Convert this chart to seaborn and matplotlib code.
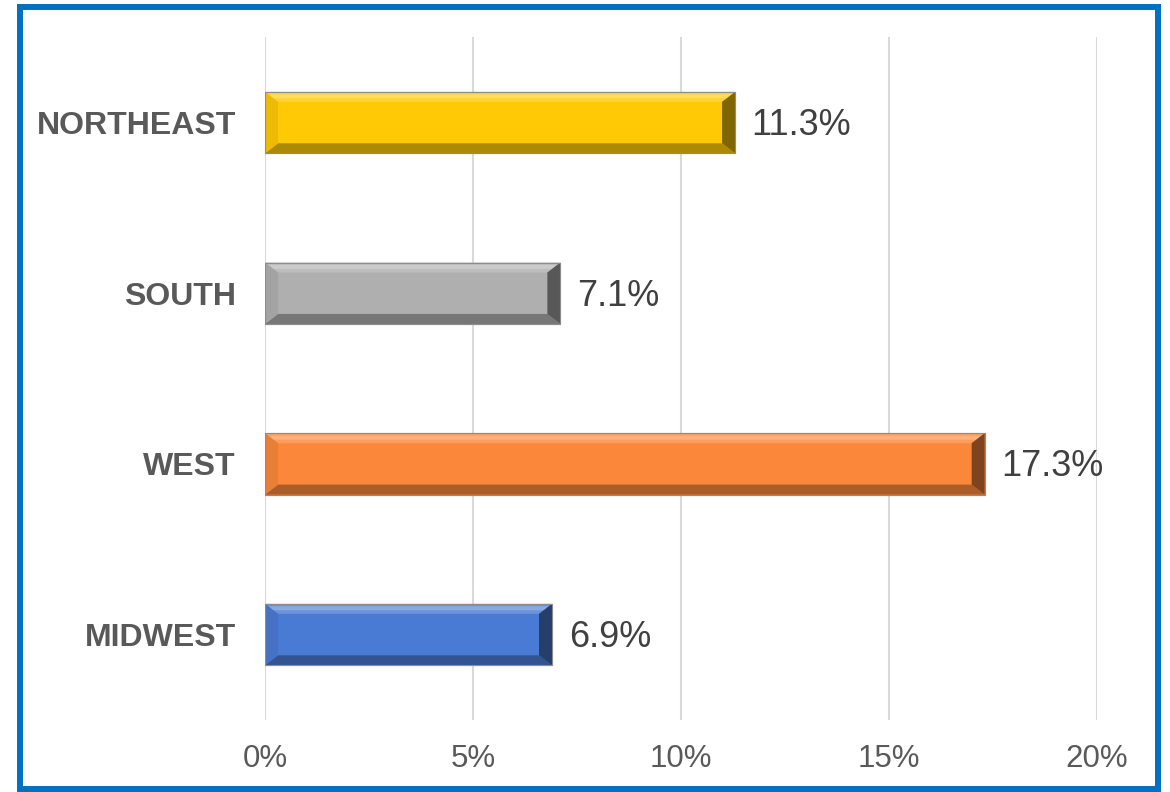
import matplotlib
matplotlib.use("Agg")
import matplotlib.pyplot as plt
from matplotlib.patches import Polygon, Rectangle
from matplotlib.colors import to_rgb
import numpy as np
import pandas as pd
import seaborn as sns

# Regional share values (percent)
regions = ["NORTHEAST", "SOUTH", "WEST", "MIDWEST"]
shares = [11.3, 7.1, 17.3, 6.9]
bar_colors = ["#FFC906", "#AFAFAF", "#FB873A", "#4A7BD4"]
x_ticks = [0, 5, 10, 15, 20]
x_tick_labels = ["0%", "5%", "10%", "15%", "20%"]

sns.set_theme(style="white")
plt.rcParams["font.family"] = ["Liberation Sans", "DejaVu Sans"]

df = pd.DataFrame({"region": regions, "share": shares})

fig = plt.figure(figsize=(11.7, 7.92), dpi=100)
ax = fig.add_axes([0.2265, 0.091, 0.7111, 0.862])

sns.barplot(data=df, x="share", y="region", hue="region",
            palette=dict(zip(regions, bar_colors)), order=regions,
            width=0.36, saturation=1, legend=False, ax=ax,
            edgecolor="#9a9a9a", linewidth=0.8, zorder=3)

ax.set_xlim(0, 20)
ax.set_ylim(len(regions) - 0.5, -0.5)
ax.set_xticks(x_ticks)
ax.set_xticklabels(x_tick_labels, fontsize=22.5, color="#595959")
ax.tick_params(axis="x", length=0, pad=17)
ax.tick_params(axis="y", length=0, pad=21)
for lab in ax.get_yticklabels():
    lab.set_fontsize(23)
    lab.set_fontweight("bold")
    lab.set_color("#595959")
ax.set_xlabel("")
ax.set_ylabel("")
for s in ax.spines.values():
    s.set_visible(False)
ax.grid(axis="x", color="#D9D9D9", linewidth=1.5, zorder=0)
ax.grid(axis="y", visible=False)
ax.set_axisbelow(True)


def shade(color, f):
    c = np.array(to_rgb(color))
    if f >= 0:
        return tuple(c + (1 - c) * f)
    return tuple(c * (1 + f))


# Bevelled faces on each bar
fig.canvas.draw()
px_per_x = ax.get_window_extent().width / 20.0
px_per_y = ax.get_window_extent().height / len(regions)
dx = 13 / px_per_x
dy = 10 / px_per_y
hl = 4 / px_per_y
for patch, col in zip(ax.patches, bar_colors):
    x0 = patch.get_x()
    x1 = x0 + patch.get_width()
    y0 = patch.get_y()
    y1 = y0 + patch.get_height()
    faces = [
        ([(x0, y0), (x1, y0), (x1 - dx, y0 + dy), (x0 + dx, y0 + dy)], shade(col, 0.18)),
        ([(x0 + dx * 0.3, y0 + hl * 0.6), (x1 - dx * 0.3, y0 + hl * 0.6),
          (x1 - dx * 0.6, y0 + hl * 1.6), (x0 + dx * 0.6, y0 + hl * 1.6)], shade(col, 0.35)),
        ([(x0, y1), (x1, y1), (x1 - dx, y1 - dy), (x0 + dx, y1 - dy)], shade(col, -0.32)),
        ([(x0, y0), (x0 + dx, y0 + dy), (x0 + dx, y1 - dy), (x0, y1)], shade(col, -0.07)),
        ([(x1, y0), (x1 - dx, y0 + dy), (x1 - dx, y1 - dy), (x1, y1)], shade(col, -0.5)),
    ]
    for pts, fc in faces:
        ax.add_patch(Polygon(pts, closed=True, facecolor=fc, edgecolor="none", zorder=4))
    ax.add_patch(Rectangle((x0, y0), x1 - x0, y1 - y0, fill=False,
                           edgecolor="#8c8c8c", linewidth=0.8, zorder=5))
    ax.annotate(f"{patch.get_width():.1f}%", xy=(x1, (y0 + y1) / 2),
                xytext=(12, -2), textcoords="offset points", va="center",
                ha="left", fontsize=26, color="#404040", zorder=6)

# Blue frame around the figure
fig.patches.append(Rectangle((0.0171, 0.0038), 0.9726, 0.9874, transform=fig.transFigure,
                             fill=False, edgecolor="#0070C0", linewidth=4.3))

fig.savefig("out.png", dpi=100)
